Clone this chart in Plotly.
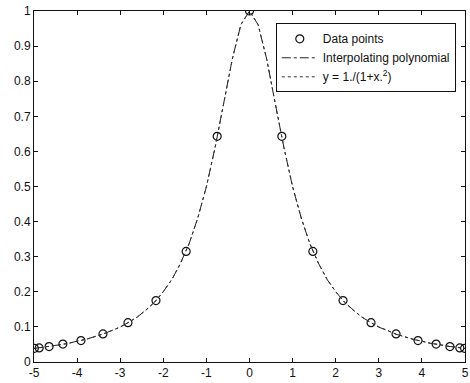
import plotly.graph_objects as go

# Data points (interpolation nodes)
node_x = [-4.99, -4.88, -4.65, -4.33, -3.91, -3.40, -2.82, -2.17, -1.47, -0.75, 0.0,
          0.75, 1.47, 2.17, 2.82, 3.40, 3.91, 4.33, 4.65, 4.88, 4.99]
node_y = [0.039, 0.040, 0.044, 0.051, 0.061, 0.080, 0.112, 0.175, 0.315, 0.643, 1.0,
          0.643, 0.315, 0.175, 0.112, 0.080, 0.061, 0.051, 0.044, 0.040, 0.039]

# Curve samples
curve_x = [-5.0, -4.8, -4.6, -4.4, -4.2, -4.0, -3.8, -3.6, -3.4, -3.2, -3.0, -2.8, -2.6,
           -2.4, -2.2, -2.0, -1.8, -1.6, -1.4, -1.2, -1.0, -0.8, -0.6, -0.4, -0.2, 0.0,
           0.2, 0.4, 0.6, 0.8, 1.0, 1.2, 1.4, 1.6, 1.8, 2.0, 2.2, 2.4, 2.6, 2.8, 3.0,
           3.2, 3.4, 3.6, 3.8, 4.0, 4.2, 4.4, 4.6, 4.8, 5.0]
func_y = [0.0385, 0.0416, 0.0451, 0.0491, 0.0536, 0.0588, 0.0648, 0.0716, 0.0796, 0.0890,
          0.1000, 0.1131, 0.1289, 0.1479, 0.1712, 0.2000, 0.2358, 0.2809, 0.3378, 0.4098,
          0.5000, 0.6098, 0.7353, 0.8621, 0.9615, 1.0000, 0.9615, 0.8621, 0.7353, 0.6098,
          0.5000, 0.4098, 0.3378, 0.2809, 0.2358, 0.2000, 0.1712, 0.1479, 0.1289, 0.1131,
          0.1000, 0.0890, 0.0796, 0.0716, 0.0648, 0.0588, 0.0536, 0.0491, 0.0451, 0.0416,
          0.0385]
poly_y = [0.0385, 0.0425, 0.0446, 0.0498, 0.0528, 0.0596, 0.0640, 0.0722, 0.0790, 0.0898,
          0.0992, 0.1137, 0.1282, 0.1486, 0.1705, 0.2008, 0.2350, 0.2816, 0.3370, 0.4106,
          0.4992, 0.6104, 0.7345, 0.8628, 0.9607, 1.0000, 0.9607, 0.8628, 0.7345, 0.6104,
          0.4992, 0.4106, 0.3370, 0.2816, 0.2350, 0.2008, 0.1705, 0.1486, 0.1282, 0.1137,
          0.0992, 0.0898, 0.0790, 0.0722, 0.0640, 0.0596, 0.0528, 0.0498, 0.0446, 0.0425,
          0.0385]

x_ticks = [-5, -4, -3, -2, -1, 0, 1, 2, 3, 4, 5]
x_tick_text = ["-5", "-4", "-3", "-2", "-1", "0", "1", "2", "3", "4", "5"]
y_ticks = [0, 0.1, 0.2, 0.3, 0.4, 0.5, 0.6, 0.7, 0.8, 0.9, 1]
y_tick_text = ["0", "0.1", "0.2", "0.3", "0.4", "0.5", "0.6", "0.7", "0.8", "0.9", "1"]

FONT = "Liberation Sans, Arial, sans-serif"

fig = go.Figure()
fig.add_trace(go.Scatter(
    x=node_x, y=node_y, mode="markers", name="Data points",
    marker=dict(symbol="circle-open", size=8, color="#111", line=dict(width=1.2)),
))
fig.add_trace(go.Scatter(
    x=curve_x, y=poly_y, mode="lines", name="Interpolating polynomial",
    line=dict(color="#222", width=1, dash="dashdot"),
))
fig.add_trace(go.Scatter(
    x=curve_x, y=func_y, mode="lines", name="y = 1./(1+x.<sup>2</sup>)",
    line=dict(color="#333", width=1, dash="dot"),
))

axis_common = dict(
    showline=True, linecolor="#111", linewidth=1, mirror="ticks",
    ticks="inside", ticklen=4, tickcolor="#111", showgrid=False, zeroline=False,
    automargin=False,
    tickfont=dict(family=FONT, size=12, color="#111"),
)
fig.update_xaxes(range=[-5, 5], tickvals=x_ticks, ticktext=x_tick_text, **axis_common)
fig.update_yaxes(range=[0, 1], tickvals=y_ticks, ticktext=y_tick_text, **axis_common)

fig.update_layout(
    template="none",
    width=470, height=383,
    margin=dict(l=34, r=5, t=11, b=21),
    paper_bgcolor="white", plot_bgcolor="white",
    font=dict(family=FONT, size=12, color="#111"),
    showlegend=True,
    legend=dict(
        x=0.561, xanchor="left", y=0.965, yanchor="top",
        bordercolor="#111", borderwidth=1, bgcolor="white",
        font=dict(family=FONT, size=12, color="#111"),
        itemwidth=36, tracegroupgap=0,
    ),
)

fig.write_html(
    "out.html",
    config={"displayModeBar": False},
    post_script="document.body.style.margin='0';document.body.style.overflow='hidden';",
)
